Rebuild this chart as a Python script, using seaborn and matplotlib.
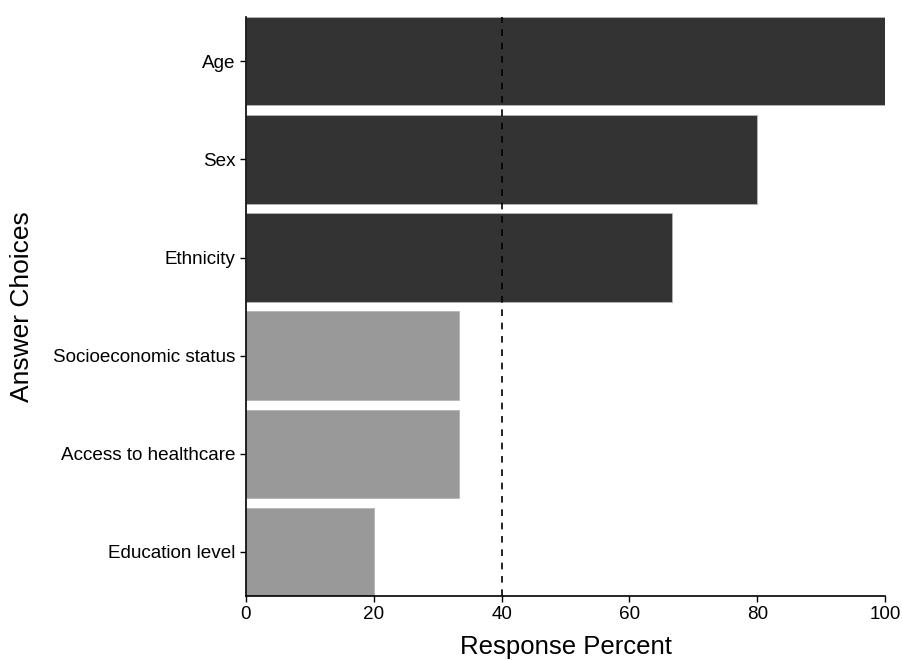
import pandas as pd
import matplotlib
matplotlib.use('Agg')
import matplotlib.pyplot as plt
import seaborn as sns

# Survey answer choices and response percent
choices = ['Age', 'Sex', 'Ethnicity', 'Socioeconomic status',
           'Access to healthcare', 'Education level']
percent = [100.0, 80.0, 66.67, 33.33, 33.33, 20.0]
group = ['above', 'above', 'above', 'below', 'below', 'below']
threshold = 40

df = pd.DataFrame({'choice': choices, 'percent': percent, 'group': group})

sns.set_style('ticks')
plt.rcParams['font.family'] = ['Liberation Sans', 'DejaVu Sans']

fig = plt.figure(figsize=(9.02, 6.6), dpi=100)
ax = fig.add_axes([0.2727, 0.097, 0.7085, 0.877])

sns.barplot(data=df, x='percent', y='choice', hue='group',
            palette={'above': '#333333', 'below': '#999999'},
            order=choices, dodge=False, width=0.9, legend=False,
            edgecolor='#b5b5b5', linewidth=0.6, ax=ax)

ax.axvline(threshold, color='black', linestyle=(0, (4, 4)), linewidth=1.2)

ax.set_xlim(0, 100)
ax.set_ylim(len(choices) - 0.55, -0.45)
ax.set_xticks([0, 20, 40, 60, 80, 100])
ax.set_xlabel('Response Percent', fontsize=18.5, labelpad=8, color='black')
ax.set_ylabel('Answer Choices', fontsize=19, labelpad=14, color='black')
ax.tick_params(axis='both', labelsize=13.6, length=4, width=1, color='black', labelcolor='black')
ax.grid(False)

sns.despine(ax=ax)
for side in ['left', 'bottom']:
    ax.spines[side].set_color('black')
    ax.spines[side].set_linewidth(1.2)

fig.savefig('out.png', dpi=100)
